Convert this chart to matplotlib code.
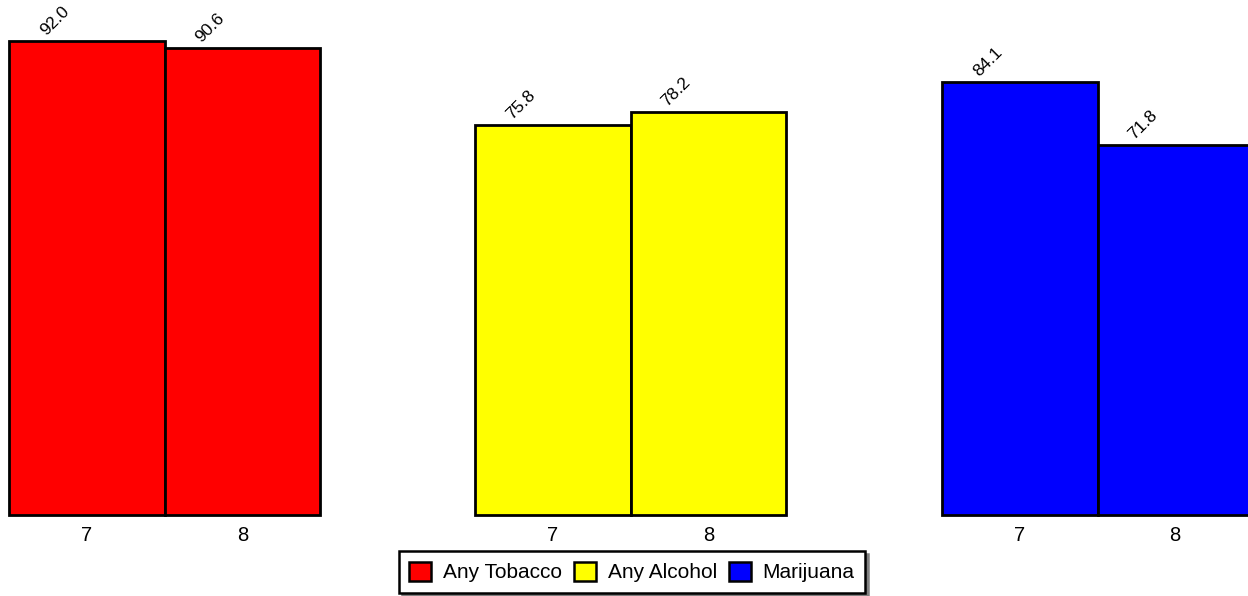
import matplotlib
matplotlib.use("Agg")
import matplotlib.pyplot as plt
from matplotlib.patches import Patch

plt.rcParams["font.family"] = ["Liberation Sans", "DejaVu Sans"]

# data
grades = ["7", "8"]
tobacco = [92.0, 90.6]
alcohol = [75.8, 78.2]
marijuana = [84.1, 71.8]
series = ["Any Tobacco", "Any Alcohol", "Marijuana"]
colors = ["#ff0000", "#ffff00", "#0000ff"]

W, H = 1248, 596
fig = plt.figure(figsize=(W / 100, H / 100), dpi=100)

lefts = [9, 475, 942]
pw = 311
for left, vals, c in zip(lefts, [tobacco, alcohol, marijuana], colors):
    ax = fig.add_axes([left / W, (H - 515) / H, pw / W, 515 / H])
    x = list(range(len(grades)))
    bars = ax.bar(x, vals, width=1.0, color=c, edgecolor="black", linewidth=2,
                  clip_on=False)
    ax.set_xlim(-0.5, 1.5)
    ax.set_ylim(0, 100)
    ax.set_xticks(x)
    ax.set_xticklabels(grades, fontsize=14.5)
    ax.tick_params(axis="x", length=0, pad=8)
    ax.set_yticks([])
    for s in ax.spines.values():
        s.set_visible(False)
    for b, v in zip(bars, vals):
        ax.annotate(f"{v:.1f}", (b.get_x() + b.get_width() / 2, v),
                    xytext=(-41, 5), textcoords="offset pixels",
                    rotation=45, ha="left", va="baseline", fontsize=12.5,
                    rotation_mode="anchor", annotation_clip=False)

handles = [Patch(facecolor=c, edgecolor="black", linewidth=1.8) for c in colors]
leg = fig.legend(handles, series, loc="center", bbox_to_anchor=(632 / W, 1 - 572 / H),
                 ncol=3, fontsize=15, frameon=True, shadow={"color": "#808080", "alpha": 1},
                 fancybox=False, handlelength=1.05, handleheight=1.05, handletextpad=0.55,
                 columnspacing=0.6, borderpad=0.5, borderaxespad=0)
leg.get_frame().set_edgecolor("black")
leg.get_frame().set_linewidth(1.8)

fig.savefig("out.png", dpi=100)
